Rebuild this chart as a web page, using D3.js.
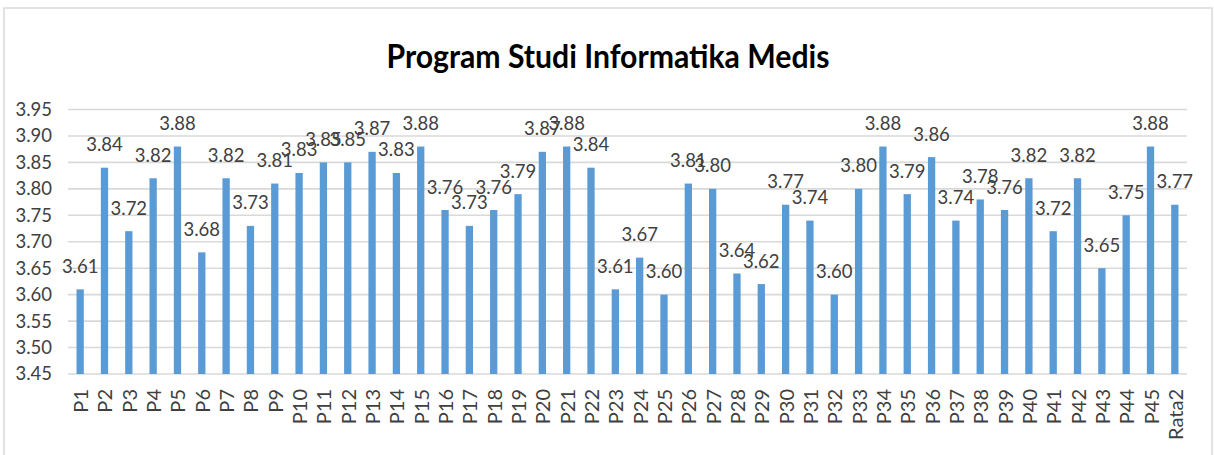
<!DOCTYPE html>
<html>
<head>
<meta charset="utf-8">
<script src="https://cdn.jsdelivr.net/npm/d3@7"></script>
<style>
  html, body { margin: 0; padding: 0; background: #fff; }
  svg { display: block; }
</style>
</head>
<body>
<svg id="chart" width="1214" height="455"></svg>
<script>
const categories = ["P1","P2","P3","P4","P5","P6","P7","P8","P9","P10","P11","P12","P13","P14","P15","P16","P17","P18","P19","P20","P21","P22","P23","P24","P25","P26","P27","P28","P29","P30","P31","P32","P33","P34","P35","P36","P37","P38","P39","P40","P41","P42","P43","P44","P45","Rata2"];
const values = [3.61,3.84,3.72,3.82,3.88,3.68,3.82,3.73,3.81,3.83,3.85,3.85,3.87,3.83,3.88,3.76,3.73,3.76,3.79,3.87,3.88,3.84,3.61,3.67,3.60,3.81,3.80,3.64,3.62,3.77,3.74,3.60,3.80,3.88,3.79,3.86,3.74,3.78,3.76,3.82,3.72,3.82,3.65,3.75,3.88,3.77];
const yTicks = [3.45,3.50,3.55,3.60,3.65,3.70,3.75,3.80,3.85,3.90,3.95];
const title = "Program Studi Informatika Medis";

const svg = d3.select("#chart");
const W = 1214, H = 455;
const plot = { left: 68, right: 1187, top: 109.5, bottom: 374 };
const font = "Lato, 'Liberation Sans', sans-serif";

// frame
svg.append("path")
  .attr("d", `M4,${H+5} L4,8 L1212,8 L1212,${H+5}`)
  .attr("fill", "none").attr("stroke", "#d9d9d9").attr("stroke-width", 1.5);

const x = d3.scaleBand().domain(categories).range([plot.left, plot.right]).paddingInner(0).paddingOuter(0);
const y = d3.scaleLinear().domain([3.45, 3.95]).range([plot.bottom, plot.top]);

// gridlines
svg.append("g").selectAll("line").data(yTicks).join("line")
  .attr("x1", plot.left).attr("x2", plot.right)
  .attr("y1", d => y(d)).attr("y2", d => y(d))
  .attr("stroke", "#d9d9d9").attr("stroke-width", 1.6);

// y axis labels
const yAxis = d3.axisLeft(y).tickValues(yTicks).tickFormat(d3.format(".2f")).tickSize(0).tickPadding(16);
const gy = svg.append("g").attr("transform", `translate(${plot.left},0)`).call(yAxis);
gy.select(".domain").remove();
gy.selectAll("text").attr("font-family", font).attr("font-size", 18.5).attr("fill", "#404040");

// bars
const bw = x.bandwidth() * 0.3;
svg.append("g").selectAll("rect").data(values).join("rect")
  .attr("x", (d, i) => x(categories[i]) + x.bandwidth() / 2 - bw / 2)
  .attr("y", d => y(d))
  .attr("width", bw)
  .attr("height", d => y(3.45) - y(d))
  .attr("fill", "#5b9bd5");

// value labels
svg.append("g").selectAll("text").data(values).join("text")
  .attr("x", (d, i) => x(categories[i]) + x.bandwidth() / 2)
  .attr("y", d => y(d) - 16.5)
  .attr("text-anchor", "middle")
  .attr("font-family", font).attr("font-size", 18.5).attr("fill", "#404040")
  .text(d => d3.format(".2f")(d));

// x axis labels
const xAxis = d3.axisBottom(x).tickSize(0).tickPadding(0);
const gx = svg.append("g").attr("transform", `translate(0,${plot.bottom})`).call(xAxis);
gx.select(".domain").remove();
gx.selectAll("text")
  .attr("font-family", font).attr("font-size", 20).attr("fill", "#404040")
  .attr("text-anchor", "end")
  .attr("dy", null)
  .attr("transform", "translate(0,15) rotate(-90)")
  .attr("x", 0).attr("y", 0)
  .attr("dominant-baseline", "central");

// title
svg.append("text")
  .attr("x", 608).attr("y", 68)
  .attr("text-anchor", "middle")
  .attr("textLength", 443).attr("lengthAdjust", "spacingAndGlyphs")
  .attr("font-family", font).attr("font-weight", "bold").attr("font-size", 33).attr("fill", "#000")
  .text(title);
</script>
</body>
</html>
